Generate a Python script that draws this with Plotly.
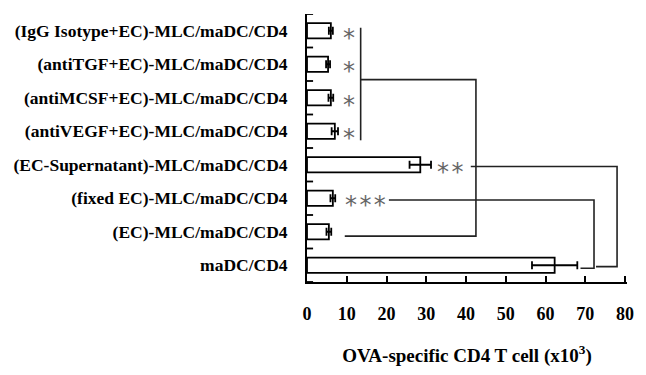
import plotly.graph_objects as go

categories = [
    "maDC/CD4",
    "(EC)-MLC/maDC/CD4",
    "(fixed EC)-MLC/maDC/CD4",
    "(EC-Supernatant)-MLC/maDC/CD4",
    "(antiVEGF+EC)-MLC/maDC/CD4",
    "(antiMCSF+EC)-MLC/maDC/CD4",
    "(antiTGF+EC)-MLC/maDC/CD4",
    "(IgG Isotype+EC)-MLC/maDC/CD4",
]
values = [62.3, 5.5, 6.5, 28.5, 7.0, 6.0, 5.3, 6.0]
errors = [5.7, 0.6, 0.6, 2.7, 0.8, 0.6, 0.5, 0.5]

# significance marks: (text, x, category index)
sig_text = ["*", "*", "*", "*", "*&#8202;*", "*&#8202;*&#8202;*"]
sig_x = [10.5, 10.5, 10.5, 10.5, 36.0, 14.8]
sig_y = [7, 6, 5, 4, 3, 2]

# bracket polylines (x list, y list in category-index units)
brackets = [
    ([13.5, 13.5], [7.09, 3.73]),
    ([13.5, 42.5, 42.5, 9.5], [5.54, 5.54, 0.87, 0.87]),
    ([41.2, 78.0, 78.0, 72.7], [2.95, 2.95, -0.04, -0.04]),
    ([20.6, 72.2, 72.2, 68.8], [1.95, 1.95, -0.09, -0.09]),
]

x_ticks = [0, 10, 20, 30, 40, 50, 60, 70, 80]

FONT = "Liberation Serif"

fig = go.Figure()
fig.add_trace(go.Bar(
    y=list(range(len(categories))),
    x=values,
    orientation="h",
    width=0.45,
    marker=dict(color="white", line=dict(color="black", width=1.8)),
    error_x=dict(type="data", array=errors, color="black", thickness=1.8, width=4),
    showlegend=False,
))

for bx, by in brackets:
    fig.add_trace(go.Scatter(x=bx, y=by, mode="lines",
                             line=dict(color="#222222", width=1.6),
                             showlegend=False, hoverinfo="skip"))

for t, x, y in zip(sig_text, sig_x, sig_y):
    fig.add_annotation(x=x, y=y, text=t, showarrow=False, xref="x", yref="y",
                       font=dict(family="DejaVu Sans", size=24, color="#666666"),
                       yshift=-7)

fig.update_layout(
    width=646, height=375,
    margin=dict(l=307, r=18, t=14, b=87),
    plot_bgcolor="white", paper_bgcolor="white",
    font=dict(family=FONT, color="black"),
)
fig.update_xaxes(
    range=[0, 80.5], tickvals=x_ticks, ticks="inside", ticklen=6, tickwidth=1.8,
    tickcolor="black", showline=True, linecolor="black", linewidth=1.8,
    showgrid=False, zeroline=False,
    tickfont=dict(family=FONT, size=18, color="black", weight="bold"),
    ticklabelstandoff=14,
    title=dict(text="OVA-specific CD4 T cell (x10<sup>3</sup>)",
               font=dict(family=FONT, size=19, color="black", weight="bold"), standoff=26),
)
fig.update_yaxes(
    range=[-0.5, 7.5], tickvals=list(range(len(categories))), ticktext=categories,
    ticks="", showline=True, linecolor="black", linewidth=1.8,
    showgrid=False, zeroline=False,
    tickfont=dict(family=FONT, size=17.5, color="black", weight="bold"),
    ticklabelstandoff=14,
)
# boundary ticks on y axis (between categories)
for i in range(len(categories) + 1):
    fig.add_shape(type="line", xref="paper", yref="y", x0=0, x1=0.019,
                  y0=i - 0.5, y1=i - 0.5, line=dict(color="black", width=1.8))

fig.write_html("out.html", config={"displayModeBar": False},
               post_script="document.body.style.margin='0';")
